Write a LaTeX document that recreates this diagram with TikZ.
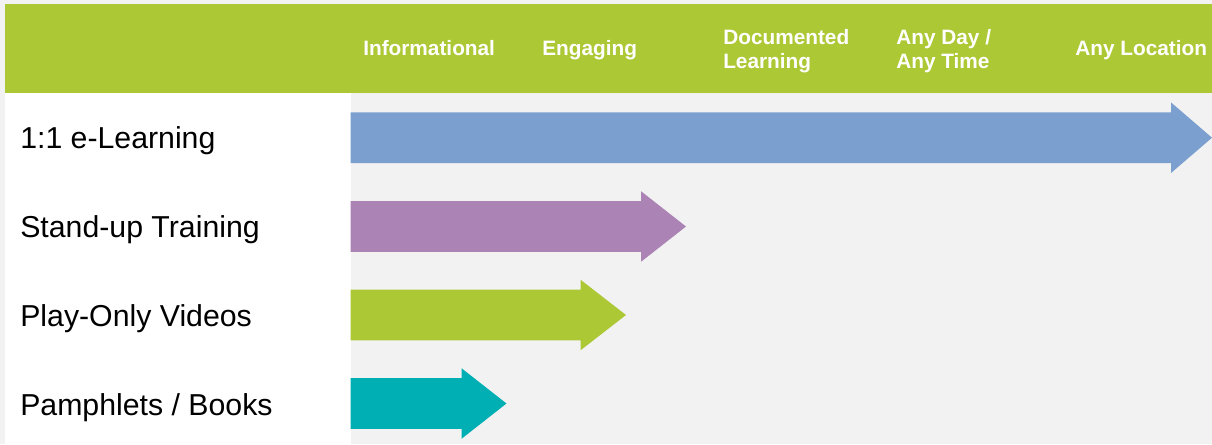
\documentclass[tikz,border=0pt]{standalone}
\usepackage{fontspec}
\setmainfont{Liberation Sans}
\definecolor{bggray}{HTML}{F2F2F2}
\definecolor{hdrgreen}{HTML}{ACC835}
\definecolor{arrblue}{HTML}{7BA0CF}
\definecolor{arrpurple}{HTML}{AB84B5}
\definecolor{arrgreen}{HTML}{ACC835}
\definecolor{arrteal}{HTML}{00AFB4}
\tikzset{
  hdr/.style={anchor=base west, inner sep=0pt, text=white, font=\fontsize{15.6}{18}\selectfont\bfseries, align=left},
  rowlabel/.style={anchor=base west, inner sep=0pt, text=black, font=\fontsize{22.7}{27}\selectfont},
}
% arrow: #1 colour, #2 y centre, #3 head base x, #4 tip x
\newcommand{\rowarrow}[4]{%
  \fill[#1] (350.7,#2-25.3) -- (#3,#2-25.3) -- (#3,#2-35.3) -- (#4,#2) -- (#3,#2+35.3) -- (#3,#2+25.3) -- (350.7,#2+25.3) -- cycle;}
\begin{document}
\begin{tikzpicture}[x=0.75pt,y=-0.75pt]
\useasboundingbox (0,0) rectangle (1212,444);
\fill[bggray] (0,0) rectangle (1212,444);
\fill[hdrgreen] (5,4) rectangle (1212,93);
\fill[white] (5,93) rectangle (350.7,444);
% header labels
\node[hdr] (h1) at (363,55.3) {Informational};
\node[hdr] (h2) at (542,55.3) {Engaging};
\node[hdr, anchor=north west] (h3) at (723,29.5) {Documented\\Learning};
\node[hdr, anchor=north west] (h4) at (896,29.5) {Any Day /\\Any Time};
\node[hdr] (h5) at (1075,55.3) {Any Location};
% arrows
\rowarrow{arrblue}{137.7}{1171}{1212}
\rowarrow{arrpurple}{226.5}{641}{686}
\rowarrow{arrgreen}{315}{580.5}{626}
\rowarrow{arrteal}{403.5}{461.5}{506.5}
% row labels
\node[rowlabel] (r1) at (20,148.7) {1:1 e-Learning};
\node[rowlabel] (r2) at (20,237.5) {Stand-up Training};
\node[rowlabel] (r3) at (20,326.5) {Play-Only Videos};
\node[rowlabel] (r4) at (20,415.5) {Pamphlets / Books};
\end{tikzpicture}
\end{document}
